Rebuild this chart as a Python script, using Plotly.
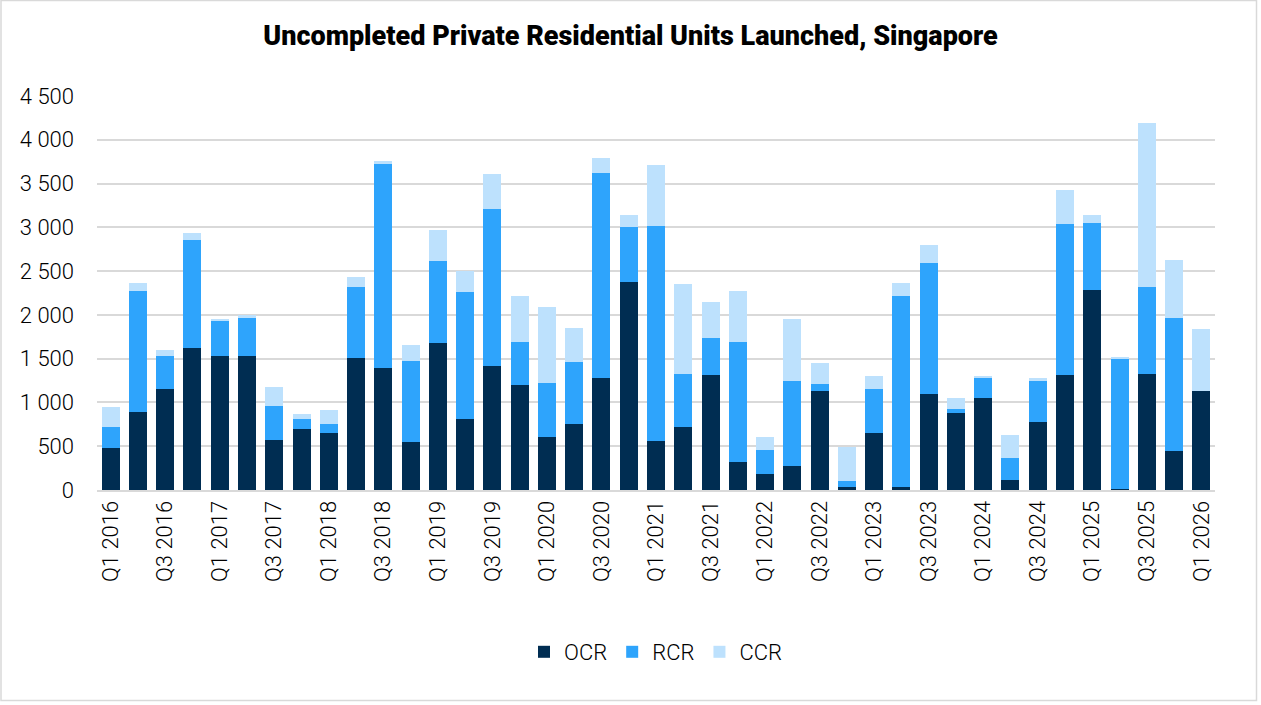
import plotly.graph_objects as go

quarters = []
for yr in range(2016, 2027):
    for q in range(1, 5):
        quarters.append(f"Q{q} {yr}")
quarters = quarters[:41]

ocr = [476, 887, 1149, 1617, 1526, 1526, 567, 692, 647, 1503, 1389, 544, 1674, 807, 1415,
       1195, 601, 750, 1274, 2374, 555, 715, 1309, 323, 179, 270, 1126, 38, 647, 34, 1092,
       875, 1046, 110, 776, 1309, 2279, 11, 1320, 441, 1126]
rcr = [247, 1388, 377, 1233, 414, 441, 395, 122, 103, 810, 2339, 925, 947, 1449, 1800,
       491, 616, 707, 2348, 628, 2458, 605, 426, 1370, 278, 970, 80, 61, 502, 2177, 1495,
       49, 228, 251, 464, 1734, 776, 1481, 1001, 1518, 0]
ccr = [221, 87, 68, 80, 10, 34, 213, 53, 163, 118, 27, 186, 354, 240, 399,
       528, 872, 392, 167, 137, 696, 1031, 411, 578, 148, 712, 243, 388, 152, 151, 209,
       122, 27, 266, 38, 381, 84, 26, 1867, 666, 711]

tick_labels = quarters[::2]
y_ticks = [0, 500, 1000, 1500, 2000, 2500, 3000, 3500, 4000, 4500]
y_tick_text = ["0", "500", "1 000", "1 500", "2 000", "2 500", "3 000", "3 500", "4 000", "4 500"]

W, H = 1261, 705
L, R, T, B = 97, 46, 96, 215
pw, ph = W - L - R, H - T - B

FONT = "Roboto"
fig = go.Figure()
for name, vals, col in [("OCR", ocr, "#002D52"), ("RCR", rcr, "#2EA4FC"), ("CCR", ccr, "#BDE1FD")]:
    fig.add_trace(go.Bar(x=quarters, y=vals, name=name, marker=dict(color=col, line=dict(width=0))))

fig.update_layout(
    barmode="stack",
    bargap=0.34,
    width=W, height=H,
    margin=dict(l=L, r=R, t=T, b=B, autoexpand=False),
    paper_bgcolor="white", plot_bgcolor="white",
    font=dict(family=FONT, size=22, color="#000000", weight=300),
    title=dict(text="Uncompleted Private Residential Units Launched, Singapore",
               x=0.5, xref="container", xanchor="center",
               y=1 - 36 / H, yref="container", yanchor="middle",
               font=dict(family=FONT, size=27, color="#000000", weight=900)),
    legend=dict(orientation="h", x=0.5, xanchor="center", xref="paper",
                y=(490 - 652) / ph, yanchor="middle",
                font=dict(family=FONT, size=22, weight=300), itemwidth=30,
                traceorder="normal"),
    xaxis=dict(type="category", tickmode="array", tickvals=tick_labels, ticktext=tick_labels,
               tickangle=-90, showgrid=False, showline=True, linecolor="#D9D9D9", linewidth=2,
               ticks="", tickfont=dict(size=22)),
    yaxis=dict(range=[0, 4500], tickvals=y_ticks, ticktext=y_tick_text, showgrid=True,
               gridcolor="#D9D9D9", gridwidth=2, zeroline=False, showline=False, ticks="",
               ticklabelstandoff=22, tickfont=dict(size=22)),
    shapes=[dict(type="rect", xref="paper", yref="paper",
                 x0=(1 - L) / pw, x1=(1256.5 - L) / pw,
                 y0=(T + ph - 700.5) / ph, y1=(T + ph - 0.5) / ph,
                 line=dict(color="#D9D9D9", width=1.5), fillcolor="rgba(0,0,0,0)")],
)

fig.write_html("out.html")
